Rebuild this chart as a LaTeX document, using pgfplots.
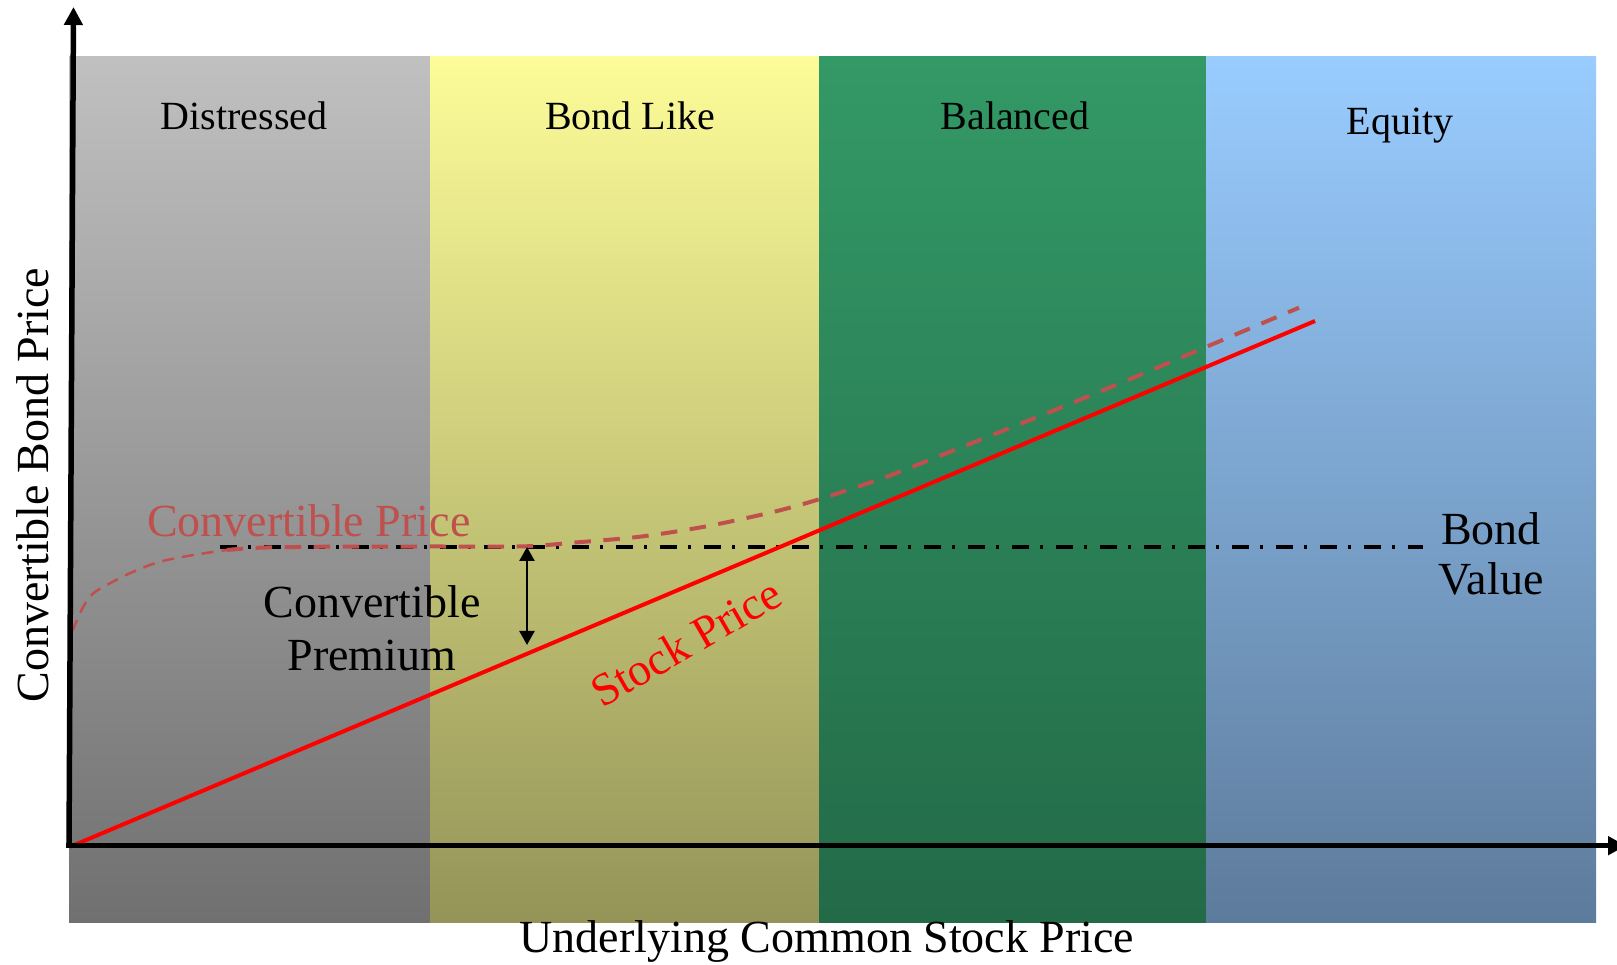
\documentclass[border=0pt]{standalone}
\usepackage{pgfplots}
\pgfplotsset{compat=1.18}
\usepackage{fontspec}
\setmainfont{Liberation Serif}
\usetikzlibrary{arrows.meta}
\definecolor{gtop}{RGB}{192,192,192}
\definecolor{gbot}{RGB}{112,112,112}
\definecolor{ytop}{RGB}{252,252,153}
\definecolor{ybot}{RGB}{148,148,88}
\definecolor{ntop}{RGB}{51,153,102}
\definecolor{nbot}{RGB}{35,106,72}
\definecolor{btop}{RGB}{153,204,255}
\definecolor{bbot}{RGB}{93,123,155}
\definecolor{cprice}{RGB}{192,80,77}
\begin{document}
\begin{tikzpicture}
\begin{axis}[
  scale only axis, width=1617pt, height=965pt,
  xmin=0, xmax=1617, ymin=0, ymax=965,
  hide axis, clip=false, enlargelimits=false,
]
% bands
\addplot[draw=none, top color=gtop, bottom color=gbot] coordinates {(69,42) (69,908) (430,908) (430,42) (69,42)};
\addplot[draw=none, top color=ytop, bottom color=ybot] coordinates {(430,42) (430,908) (819,908) (819,42) (430,42)};
\addplot[draw=none, top color=ntop, bottom color=nbot] coordinates {(819,42) (819,908) (1206,908) (1206,42) (819,42)};
\addplot[draw=none, top color=btop, bottom color=bbot] coordinates {(1206,42) (1206,908) (1596,908) (1596,42) (1206,42)};
% bond value
\addplot[black, line width=4pt, dash pattern=on 16.5pt off 11.5pt on 3.3pt off 12.7pt] coordinates {(220,418.3) (1423,418.3)};
% convertible price (thin part)
\addplot[cprice, line width=2.5pt, dash pattern=on 12pt off 8pt, smooth, tension=0.5] coordinates {
(72.3,334) (83.3,358.3) (93.3,371.7) (110,381.7) (133.3,393.3) (160,403.3) (193.3,410) (226.7,415)};
% convertible price (thick part)
\addplot[cprice, line width=4pt, dash pattern=on 16.5pt off 12.5pt, smooth, tension=0.5] coordinates {
(226.7,415) (260,417.3) (326.7,418.3) (430,418.5) (523,418.6) (573,422.3) (640,428.3) (706.7,438.7) (773,453) (820,466) (886.7,488.3) (953.3,514.5) (1020,541) (1086.7,568) (1153,595.5) (1206.7,618.3) (1299,657.3)};
% stock price
\addplot[red, line width=4pt] coordinates {(72,119) (1315,644)};
% premium arrow
\addplot[black, line width=2.5pt, {Triangle[length=14pt,width=15pt]}-{Triangle[length=14pt,width=15pt]}] coordinates {(527,418) (527,320)};
% axes
\addplot[black, line width=5.5pt, -{Triangle[length=18pt,width=18pt]}] coordinates {(66,119.3) (1626,119.3)};
\addplot[black, line width=5.5pt, -{Triangle[length=18pt,width=18pt]}] coordinates {(69,117) (73.5,958)};
% texts
\node[font=\fontsize{40}{48}\selectfont, anchor=base] at (axis cs:244,835) {Distressed};
\node[font=\fontsize{40}{48}\selectfont, anchor=base] at (axis cs:630,835) {Bond Like};
\node[font=\fontsize{40}{48}\selectfont, anchor=base] at (axis cs:1015,835) {Balanced};
\node[font=\fontsize{40}{48}\selectfont, anchor=base] at (axis cs:1400,830) {Equity};
\node[font=\fontsize{46}{55}\selectfont, text=cprice, anchor=base west, inner sep=0pt] at (axis cs:147,428) {Convertible Price};
\node[font=\fontsize{46}{55}\selectfont, anchor=base] at (axis cs:372,347) {Convertible};
\node[font=\fontsize{46}{55}\selectfont, anchor=base] at (axis cs:372,294) {Premium};
\node[font=\fontsize{46}{55}\selectfont, anchor=base] at (axis cs:1491,420) {Bond};
\node[font=\fontsize{46}{55}\selectfont, anchor=base] at (axis cs:1491,370) {Value};
\node[font=\fontsize{46}{55}\selectfont, text=red, anchor=base, rotate=30] at (axis cs:694,309) {Stock Price};
\node[font=\fontsize{46}{55}\selectfont, anchor=base, rotate=90] at (axis cs:48.5,480) {Convertible Bond Price};
\node[font=\fontsize{46}{55}\selectfont, anchor=base] at (axis cs:827,12.3) {Underlying Common Stock Price};
\end{axis}
\pgfresetboundingbox
\path (0,0) rectangle (1617pt,965pt);
\end{tikzpicture}
\end{document}
